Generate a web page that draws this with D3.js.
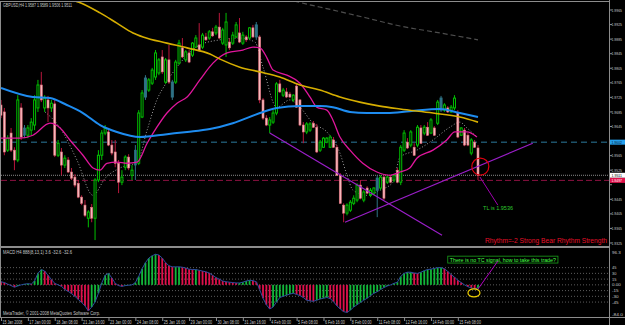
<!DOCTYPE html>
<html>
<head>
<meta charset="utf-8">
<script src="https://cdn.jsdelivr.net/npm/d3@7.9.0/dist/d3.min.js"></script>
<style>
  body { margin: 0; background: #000; }
  svg { display: block; font-family: 'Liberation Sans', Arial, sans-serif; }
</style>
</head>
<body>
<svg width="625" height="325"></svg>
<script>
// H4 candles, one row per bar: open, high, low, close
const candles = [
  [1.9704,1.9718,1.9668,1.9676],[1.9685,1.9696,1.9566,1.9575],[1.9580,1.9621,1.9575,1.9613],[1.9627,1.9641,1.9575,1.9580],
  [1.9580,1.9588,1.9525,1.9553],[1.9553,1.9731,1.9547,1.9718],[1.9696,1.9709,1.9608,1.9616],[1.9641,1.9649,1.9613,1.9621],
  [1.9621,1.9649,1.9613,1.9641],[1.9635,1.9668,1.9621,1.9657],[1.9649,1.9731,1.9635,1.9718],[1.9696,1.9773,1.9685,1.9759],
  [1.9759,1.9795,1.9712,1.9718],[1.9696,1.9731,1.9685,1.9723],[1.9718,1.9729,1.9657,1.9696],[1.9696,1.9718,1.9685,1.9709],
  [1.9707,1.9718,1.9561,1.9566],[1.9566,1.9608,1.9561,1.9599],[1.9575,1.9586,1.9511,1.9539],[1.9539,1.9566,1.9531,1.9558],
  [1.9553,1.9561,1.9517,1.9520],[1.9520,1.9531,1.9498,1.9503],[1.9506,1.9514,1.9478,1.9484],[1.9489,1.9498,1.9448,1.9451],
  [1.9451,1.9456,1.9429,1.9434],[1.9429,1.9443,1.9396,1.9401],[1.9393,1.9415,1.9368,1.9410],[1.9423,1.9432,1.9382,1.9393],
  [1.9393,1.9503,1.9333,1.9498],[1.9498,1.9580,1.9492,1.9566],[1.9566,1.9635,1.9553,1.9627],[1.9627,1.9649,1.9621,1.9641],
  [1.9630,1.9641,1.9591,1.9594],[1.9594,1.9608,1.9566,1.9572],[1.9575,1.9608,1.9533,1.9544],[1.9544,1.9553,1.9462,1.9492],
  [1.9492,1.9525,1.9484,1.9506],[1.9533,1.9566,1.9525,1.9561],[1.9561,1.9569,1.9525,1.9531],[1.9511,1.9539,1.9498,1.9525],
  [1.9580,1.9594,1.9498,1.9539],[1.9544,1.9690,1.9539,1.9682],[1.9671,1.9745,1.9668,1.9737],[1.9726,1.9786,1.9718,1.9778],
  [1.9745,1.9778,1.9740,1.9773],[1.9764,1.9806,1.9759,1.9800],[1.9781,1.9855,1.9773,1.9847],[1.9792,1.9833,1.9786,1.9828],
  [1.9836,1.9855,1.9789,1.9795],[1.9767,1.9833,1.9762,1.9828],[1.9828,1.9869,1.9762,1.9767],[1.9726,1.9773,1.9718,1.9767],
  [1.9767,1.9828,1.9762,1.9822],[1.9819,1.9883,1.9814,1.9874],[1.9861,1.9888,1.9833,1.9836],[1.9828,1.9855,1.9822,1.9850],
  [1.9847,1.9855,1.9819,1.9822],[1.9841,1.9877,1.9836,1.9874],[1.9863,1.9896,1.9861,1.9888],[1.9869,1.9929,1.9850,1.9855],
  [1.9863,1.9902,1.9858,1.9896],[1.9891,1.9902,1.9880,1.9883],[1.9888,1.9910,1.9883,1.9905],[1.9905,1.9916,1.9891,1.9894],
  [1.9902,1.9924,1.9896,1.9918],[1.9918,1.9957,1.9885,1.9888],[1.9874,1.9916,1.9869,1.9910],[1.9869,1.9957,1.9836,1.9932],
  [1.9877,1.9888,1.9855,1.9861],[1.9874,1.9905,1.9869,1.9896],[1.9891,1.9932,1.9888,1.9924],[1.9902,1.9943,1.9874,1.9877],
  [1.9874,1.9905,1.9869,1.9896],[1.9891,1.9896,1.9877,1.9883],[1.9888,1.9918,1.9883,1.9916],[1.9916,1.9924,1.9888,1.9891],
  [1.9891,1.9932,1.9883,1.9924],[1.9891,1.9896,1.9709,1.9718],[1.9718,1.9723,1.9663,1.9668],[1.9668,1.9676,1.9646,1.9649],
  [1.9649,1.9671,1.9627,1.9663],[1.9657,1.9690,1.9652,1.9682],[1.9682,1.9767,1.9676,1.9762],[1.9762,1.9773,1.9737,1.9740],
  [1.9731,1.9751,1.9726,1.9745],[1.9740,1.9751,1.9723,1.9726],[1.9734,1.9740,1.9723,1.9726],[1.9718,1.9734,1.9712,1.9731],
  [1.9756,1.9764,1.9696,1.9698],[1.9718,1.9720,1.9646,1.9649],[1.9649,1.9657,1.9599,1.9630],[1.9630,1.9657,1.9624,1.9652],
  [1.9635,1.9657,1.9630,1.9652],[1.9654,1.9660,1.9641,1.9643],[1.9643,1.9652,1.9572,1.9575],[1.9580,1.9608,1.9575,1.9602],
  [1.9588,1.9616,1.9586,1.9613],[1.9602,1.9616,1.9599,1.9613],[1.9588,1.9621,1.9586,1.9616],[1.9608,1.9616,1.9586,1.9588],
  [1.9588,1.9594,1.9509,1.9511],[1.9511,1.9517,1.9432,1.9434],[1.9429,1.9434,1.9382,1.9407],[1.9407,1.9434,1.9401,1.9429],
  [1.9415,1.9443,1.9410,1.9437],[1.9434,1.9456,1.9429,1.9448],[1.9443,1.9489,1.9437,1.9484],[1.9484,1.9498,1.9445,1.9448],
  [1.9443,1.9470,1.9437,1.9465],[1.9476,1.9481,1.9459,1.9462],[1.9456,1.9476,1.9451,1.9470],[1.9462,1.9478,1.9456,1.9476],
  [1.9470,1.9511,1.9396,1.9503],[1.9476,1.9511,1.9470,1.9506],[1.9506,1.9511,1.9443,1.9448],[1.9492,1.9511,1.9487,1.9506],
  [1.9506,1.9511,1.9489,1.9492],[1.9498,1.9514,1.9492,1.9511],[1.9525,1.9531,1.9489,1.9492],[1.9492,1.9594,1.9484,1.9588],
  [1.9580,1.9635,1.9575,1.9627],[1.9602,1.9613,1.9583,1.9586],[1.9594,1.9635,1.9588,1.9630],[1.9588,1.9599,1.9564,1.9566],
  [1.9594,1.9649,1.9588,1.9643],[1.9641,1.9649,1.9597,1.9599],[1.9627,1.9649,1.9621,1.9643],[1.9643,1.9657,1.9619,1.9621],
  [1.9627,1.9668,1.9624,1.9663],[1.9641,1.9646,1.9619,1.9621],[1.9654,1.9718,1.9649,1.9712],[1.9690,1.9729,1.9685,1.9723],
  [1.9690,1.9709,1.9685,1.9704],[1.9696,1.9701,1.9682,1.9685],[1.9685,1.9704,1.9682,1.9698],[1.9696,1.9731,1.9690,1.9723],
  [1.9682,1.9690,1.9613,1.9616],[1.9621,1.9643,1.9619,1.9641],[1.9635,1.9641,1.9591,1.9594],[1.9621,1.9627,1.9591,1.9594],
  [1.9572,1.9613,1.9566,1.9608],[1.9602,1.9608,1.9586,1.9588],[1.9586,1.9594,1.9498,1.9511]
];
// bars painted in the dark teal colour
const tealBars = [7, 40, 43, 51, 76, 112, 131];

// moving averages: [bar index, price]
const yellowMA = [[20,1.9995],[23,1.9987],[29.5,1.9957],[34.5,1.9929],[39.3,1.9902],[42.3,1.9891],[49.4,1.9874],[55.4,1.9861],
  [62.2,1.9844],[65.2,1.9830],[71.1,1.9808],[77.1,1.9795],[83,1.9781],[89,1.9759],[94.9,1.9745],[100.9,1.9726],
  [106.8,1.9712],[112.8,1.9701],[118.8,1.9693],[128.6,1.9682],[136.6,1.9671],[142,1.9657]];
const blueMA = [[0,1.9751],[9.5,1.9726],[14.6,1.9723],[19.6,1.9704],[24.4,1.9682],[29.5,1.9649],[34.5,1.9630],[41.4,1.9616],
  [49.4,1.9624],[55.4,1.9630],[62.2,1.9638],[69,1.9654],[77.1,1.9682],[82.1,1.9696],[89,1.9701],[94.9,1.9701],
  [98.8,1.9698],[103.9,1.9685],[108.9,1.9682],[114.9,1.9682],[121.7,1.9687],[130.7,1.9693],[136.6,1.9682],[142,1.9671]];
const magentaMA = [[0,1.9613],[5.7,1.9613],[9.5,1.9621],[14.6,1.9654],[17.6,1.9641],[20.5,1.9608],[24.4,1.9566],[27.4,1.9531],
  [29.5,1.9525],[31.5,1.9544],[34.5,1.9547],[37.5,1.9544],[40.5,1.9547],[43.5,1.9599],[46.4,1.9643],[49.4,1.9682],
  [52.4,1.9709],[55.4,1.9726],[59.2,1.9773],[63.1,1.9819],[67.3,1.9847],[72,1.9855],[75,1.9863],[77.1,1.9861],
  [79.2,1.9833],[81,1.9800],[85.1,1.9786],[89,1.9764],[92,1.9726],[94,1.9698],[97,1.9690],[98.8,1.9663],
  [100.9,1.9616],[103.9,1.9580],[107.7,1.9544],[111.9,1.9520],[115.8,1.9511],[118.8,1.9520],[121.7,1.9531],
  [123.8,1.9558],[128.6,1.9580],[132.7,1.9608],[135.1,1.9630],[138.7,1.9630],[141.7,1.9616]];
const dottedMA = [[13.1,1.9685],[17.6,1.9641],[22.6,1.9553],[27.4,1.9456],[31,1.9503],[35.4,1.9531],[40.5,1.9547],
  [43.5,1.9635],[46.4,1.9718],[48.8,1.9759],[53.3,1.9819],[59.2,1.9869],[65.2,1.9883],[71.1,1.9888],[75.6,1.9877],
  [78,1.9808],[82.1,1.9698],[86,1.9718],[89,1.9698],[92.9,1.9654],[97,1.9630],[100.9,1.9572],[103,1.9511],
  [104.8,1.9470],[108.9,1.9456],[112.8,1.9470],[116.7,1.9492],[118.8,1.9561],[123.8,1.9580],[128.6,1.9608],
  [133.6,1.9643],[136.6,1.9657],[138.7,1.9641],[141.7,1.9616]];
const greyMA = [[85,1.9995],[88.4,1.9987],[98.8,1.9965],[108.9,1.9943],[118.8,1.9921],[130.7,1.9902],[142,1.9883]];

// horizontal price levels and their axis tags
const blueLevel = 1.9602;
const bidLevel = 1.9511;
const redLevel = 1.9497;

// hand drawn trend lines: [bar index, price]
const downTrend = [[80,1.9627],[131.3,1.9346]];
const upTrend = [[102.4,1.9382],[158.3,1.9599]];
const tlPointer = [[142.6,1.9506],[147.9,1.9429]];
const tlCircle = [142.7, 1.9535];

// MACD histogram, one value per bar
const macd = [8,6,2,-2,-6,-3,0,2,3,2,10,30,40,36,25,14,4,0,-4,-12,-17,-23,-30,-38,-46,-55,-68,-58,-45,-22,
  5,25,30,18,4,-2,-4,-2,-1,0,6,22,42,58,70,76,80,78,70,58,50,47,47,47,46,44,41,40,40,38,
  36,34,31,25,19,15,10,8,7,6,5,5,7,10,12,11,8,-12,-35,-52,-63,-58,-45,-33,-30,-27,-24,-22,-25,-28,
  -33,-40,-42,-43,-40,-37,-35,-33,-36,-44,-55,-63,-70,-72,-66,-58,-52,-46,-40,-35,-28,-22,-18,-12,-7,-3,0,4,7,22,
  30,33,33,31,30,33,37,40,41,43,45,45,42,35,27,20,12,6,0,-5,-8,-10,-8];
const macdLevels = [45, 30, 15, 0, -15, -30, -45];
const macdPointer = [[147.9,62],[142,-11]];
const macdEllipse = [140.8, -21];
const noteBox = [133, 165.8, 75, 57];

// tick labels
const priceTicks = [1.9965,1.9925,1.9885,1.9845,1.9805,1.9765,1.9725,1.9685,1.9645,1.9605,1.9565,1.9525,1.9485,1.9445,1.9405,1.9365,1.9325];
const macdTickVals = [96.3, 45, 30, 15, 0, -15, -30, -45, -84];
const macdTickText = ['96.3','45','30','15','0.00','-15','-30','-45','-84.0'];
const dateIdx = [0,8,16,24,32,40,48,56,64,72,80,88,96,104,112,120,128,136];
const dateText = ['15 Jan 2008','17 Jan 00:00','18 Jan 08:00','21 Jan 16:00','23 Jan 00:00','24 Jan 08:00','25 Jan 16:00',
  '29 Jan 00:00','30 Jan 08:00','31 Jan 16:00','4 Feb 00:00','5 Feb 08:00','6 Feb 16:00','8 Feb 00:00',
  '11 Feb 08:00','12 Feb 16:00','14 Feb 00:00','15 Feb 08:00'];

const svg = d3.select('svg');
const AX = 609;   // right edge of the plotting area

// scales
const x = d3.scaleLinear().domain([0, 181]).range([1, AX]);
const y = d3.scaleLinear().domain([1.9325, 1.9965]).range([243, 10]);
const ym = d3.scaleLinear().domain([-84, 96.3]).range([317, 248]);

svg.append('rect').attr('width', 625).attr('height', 325).attr('fill', '#000');

const defs = svg.append('defs');
defs.append('clipPath').attr('id', 'mainClip').append('rect')
  .attr('x', 1).attr('y', 2).attr('width', AX - 1).attr('height', 244);
defs.append('clipPath').attr('id', 'macdClip').append('rect')
  .attr('x', 1).attr('y', 248).attr('width', AX - 1).attr('height', 69);

const main = svg.append('g').attr('clip-path', 'url(#mainClip)');
const sub = svg.append('g').attr('clip-path', 'url(#macdClip)');

// horizontal levels
function hLevel(price, color, dash, width) {
  main.append('line')
    .attr('x1', 1).attr('x2', AX)
    .attr('y1', y(price)).attr('y2', y(price))
    .attr('stroke', color).attr('stroke-width', width)
    .attr('stroke-dasharray', dash);
}
hLevel(blueLevel, '#1d5168', '6,4', 1.5);
hLevel(bidLevel, '#8a8a8a', '1,1', 1);
hLevel(redLevel, '#8e1242', '6,3', 1);

// moving average lines
const maLine = d3.line().x(d => x(d[0])).y(d => y(d[1])).curve(d3.curveMonotoneX);
function drawMA(data, color, width, dash) {
  main.append('path')
    .attr('d', maLine(data))
    .attr('fill', 'none')
    .attr('stroke', color)
    .attr('stroke-width', width)
    .attr('stroke-dasharray', dash || null);
}
drawMA(greyMA, '#4d4d4d', 1.2, '5,3');
drawMA(dottedMA, '#a0a0a0', 1, '1,2');

// candles
const bars = candles.map((d, i) => ({ i, o: d[0], h: d[1], l: d[2], c: d[3], teal: tealBars.includes(i) }));
const barColor = d => d.teal ? '#2f7386' : (d.c >= d.o ? '#00c000' : '#b8173c');

main.selectAll('line.wick').data(bars).join('line')
  .attr('class', 'wick')
  .attr('x1', d => x(d.i)).attr('x2', d => x(d.i))
  .attr('y1', d => y(d.h)).attr('y2', d => y(d.l))
  .attr('stroke', barColor)
  .attr('stroke-width', 1);

main.selectAll('rect.body').data(bars).join('rect')
  .attr('class', 'body')
  .attr('x', d => x(d.i) - 1)
  .attr('width', 2)
  .attr('y', d => y(Math.max(d.o, d.c)))
  .attr('height', d => Math.max(1, Math.abs(y(d.o) - y(d.c))))
  .attr('fill', d => d.teal ? '#2f7386' : (d.c >= d.o ? '#000' : '#f7b9bd'))
  .attr('stroke', d => d.teal ? '#2f7386' : (d.c >= d.o ? '#00c000' : '#e0707c'))
  .attr('stroke-width', d => d.c >= d.o ? 1 : 0.6);

drawMA(magentaMA, '#e0169c', 1.3);
drawMA(blueMA, '#1e8cf0', 2);
drawMA(yellowMA, '#d6ae00', 1.6);

// trend lines and notes on the price pane
const seg = d3.line().x(d => x(d[0])).y(d => y(d[1]));
main.append('path').attr('d', seg(downTrend)).attr('stroke', '#9a1ec8').attr('stroke-width', 1.2).attr('fill', 'none');
main.append('path').attr('d', seg(upTrend)).attr('stroke', '#9a1ec8').attr('stroke-width', 1.2).attr('fill', 'none');
main.append('path').attr('d', seg(tlPointer)).attr('stroke', '#a000b0').attr('stroke-width', 1).attr('fill', 'none');
main.append('circle')
  .attr('cx', x(tlCircle[0])).attr('cy', y(tlCircle[1])).attr('r', 8.5)
  .attr('fill', 'none').attr('stroke', '#e00010').attr('stroke-width', 1.2);
main.append('text')
  .attr('x', x(143.5)).attr('y', y(1.9416))
  .attr('fill', '#2ec82e').attr('font-size', 6)
  .attr('textLength', 30).attr('lengthAdjust', 'spacingAndGlyphs')
  .text('TL is 1.9536');

// MACD pane
sub.selectAll('line.lvl').data(macdLevels).join('line')
  .attr('class', 'lvl')
  .attr('x1', 1).attr('x2', AX)
  .attr('y1', d => ym(d)).attr('y2', d => ym(d))
  .attr('stroke', '#5c5c5c').attr('stroke-dasharray', '1,2');

sub.selectAll('rect.hist').data(macd).join('rect')
  .attr('class', 'hist')
  .attr('x', (d, i) => x(i) - 0.9)
  .attr('width', 1.8)
  .attr('y', d => Math.min(ym(0), ym(d)))
  .attr('height', d => Math.abs(ym(d) - ym(0)))
  .attr('fill', (d, i) => (i > 0 && d >= macd[i - 1]) ? '#12b83a' : '#e0104c');

sub.append('path')
  .attr('d', d3.line().x((d, i) => x(i)).y(d => ym(d))(macd))
  .attr('fill', 'none').attr('stroke', '#2c4c9e').attr('stroke-width', 1);

const segM = d3.line().x(d => x(d[0])).y(d => ym(d[1]));
sub.append('rect')
  .attr('x', x(noteBox[0])).attr('y', ym(noteBox[2]))
  .attr('width', x(noteBox[1]) - x(noteBox[0]))
  .attr('height', ym(noteBox[3]) - ym(noteBox[2]))
  .attr('fill', '#000').attr('stroke', '#1aa01a').attr('stroke-width', 0.8);
sub.append('text')
  .attr('x', (x(noteBox[0]) + x(noteBox[1])) / 2).attr('y', ym(noteBox[3]) - 1.5)
  .attr('text-anchor', 'middle').attr('fill', '#44ff44').attr('font-size', 5.5)
  .attr('textLength', x(noteBox[1]) - x(noteBox[0]) - 4).attr('lengthAdjust', 'spacingAndGlyphs')
  .text('There is no TC signal, how to take this trade?');
sub.append('path').attr('d', segM(macdPointer)).attr('stroke', '#b000c0').attr('stroke-width', 1).attr('fill', 'none');
sub.append('ellipse')
  .attr('cx', x(macdEllipse[0])).attr('cy', ym(macdEllipse[1]))
  .attr('rx', 6).attr('ry', 4)
  .attr('fill', 'none').attr('stroke', '#f0d000').attr('stroke-width', 1.2);

// small texts helper
function txt(px, py, s, len, opts = {}) {
  const t = svg.append('text')
    .attr('x', px).attr('y', py)
    .attr('fill', opts.fill || '#c8c8c8')
    .attr('font-size', opts.size || 5)
    .attr('text-anchor', opts.anchor || 'start')
    .text(s);
  if (len) t.attr('textLength', len).attr('lengthAdjust', 'spacingAndGlyphs');
  return t;
}

txt(3, 7, 'GBPUSD,H4  1.9587 1.9589 1.9506 1.9511', 69);
txt(3, 254, 'MACD H4 888(8,13,1) 3.6 -32.6 -32.6', 69);
txt(3, 315, 'MetaTrader, \u00a9 2001-2008 MetaQuotes Software Corp.', 97);
txt(607, 243, 'Rhythm=-2 Strong Bear Rhythm Strength', 122, { fill: '#e8102a', size: 6.7, anchor: 'end' });

// frame
const frame = svg.append('g').attr('stroke', '#8c8c8c').attr('fill', 'none');
frame.append('line').attr('x1', 0).attr('x2', AX).attr('y1', 1.5).attr('y2', 1.5);
frame.append('line').attr('x1', 0.5).attr('x2', 0.5).attr('y1', 1).attr('y2', 318);
frame.append('line').attr('x1', AX + 0.5).attr('x2', AX + 0.5).attr('y1', 0).attr('y2', 325);
frame.append('line').attr('x1', 0).attr('x2', AX).attr('y1', 247).attr('y2', 247).attr('stroke-width', 2);
frame.append('line').attr('x1', 0).attr('x2', 625).attr('y1', 317.5).attr('y2', 317.5);

// price axis, labels hidden behind a level tag are left out
const tagLevels = [blueLevel, bidLevel, redLevel];
priceTicks.forEach(p => {
  svg.append('line').attr('x1', AX).attr('x2', AX + 3).attr('y1', y(p)).attr('y2', y(p)).attr('stroke', '#8c8c8c');
  const hidden = tagLevels.some(t => Math.abs(y(t) - y(p)) < 5);
  if (!hidden) txt(611.5, y(p) + 1.6, p.toFixed(4), 10.5, { size: 4.2 });
});

// tags for the horizontal levels
function tag(price, bg, fg, label) {
  svg.append('rect').attr('x', AX + 1).attr('y', y(price) - 2.5).attr('width', 15).attr('height', 5).attr('fill', bg);
  txt(611.5, y(price) + 1.6, label, 10.5, { fill: fg, size: 4.2 });
}
tag(blueLevel, '#24a0ee', '#0a1a2a', blueLevel.toFixed(4));
tag(bidLevel, '#ffffff', '#000', bidLevel.toFixed(4));
tag(redLevel, '#e0104a', '#ffffff', redLevel.toFixed(4));

// macd axis
macdTickVals.forEach((v, k) => {
  let py = ym(v) + 1.6;
  if (k === 0) py = 254;
  if (k === macdTickVals.length - 1) py = 315.5;
  txt(612, py, macdTickText[k], macdTickText[k].length * 2.2, { size: 4.2 });
});

// date axis
dateIdx.forEach((d, k) => {
  svg.append('line').attr('x1', x(d) + 0.5).attr('x2', x(d) + 0.5).attr('y1', 318).attr('y2', 321).attr('stroke', '#8c8c8c');
  txt(x(d) + 1.5, 323.5, dateText[k], dateText[k].length * 1.8, { size: 4.6 });
});
</script>
</body>
</html>
